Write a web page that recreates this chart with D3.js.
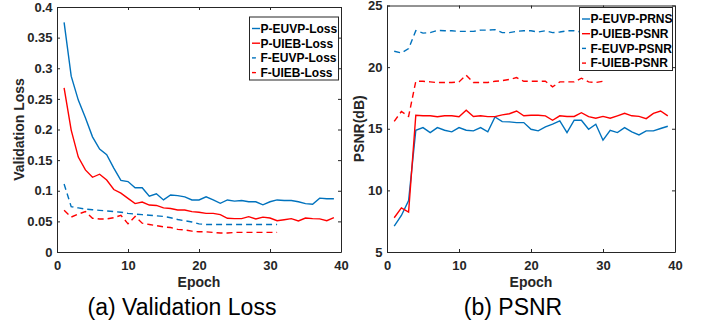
<!DOCTYPE html>
<html lang="en">

<head>
    <meta charset="utf-8">
    <title>loss and psnr</title>
    <script src="https://cdn.jsdelivr.net/npm/d3@7/dist/d3.min.js"></script>
    <style>
        body {
            margin: 0;
            background: #fff;
        }

        .svg text {
            font-family: 'Liberation Sans', Arial, sans-serif;
        }
    </style>
</head>

<body>
    <script type="text/javascript">
        // epochs
        var epochs39 = [1, 2, 3, 4, 5, 6, 7, 8, 9, 10, 11, 12, 13, 14, 15, 16, 17, 18, 19, 20,
            21, 22, 23, 24, 25, 26, 27, 28, 29, 30, 31, 32, 33, 34, 35, 36, 37, 38, 39];

        // (a) validation loss
        var pEuvpLoss = [0.375, 0.287, 0.248, 0.219, 0.188, 0.168, 0.159, 0.137, 0.117, 0.115,
            0.105, 0.105, 0.091, 0.095, 0.085, 0.093, 0.092, 0.090, 0.085, 0.085,
            0.090, 0.085, 0.0795, 0.085, 0.083, 0.084, 0.082, 0.082, 0.077, 0.082,
            0.085, 0.084, 0.084, 0.082, 0.079, 0.078, 0.088, 0.087, 0.087];
        var pUiebLoss = [0.268, 0.199, 0.155, 0.134, 0.122, 0.127, 0.1175, 0.102, 0.096, 0.0876,
            0.079, 0.0816, 0.0767, 0.076, 0.072, 0.071, 0.0686, 0.0686, 0.066, 0.065,
            0.063, 0.063, 0.061, 0.055, 0.0545, 0.0545, 0.0577, 0.054, 0.057, 0.0555,
            0.051, 0.0527, 0.0545, 0.0506, 0.0555, 0.0545, 0.054, 0.051, 0.056];
        var fEuvpLoss = [0.111, 0.074, 0.072, 0.070, 0.069, 0.068, 0.067, 0.066, 0.065, 0.063,
            0.062, 0.061, 0.060, 0.059, 0.058, 0.056, 0.053, 0.051, 0.049, 0.046,
            0.045, 0.045, 0.045, 0.045, 0.045, 0.045, 0.045, 0.045, 0.045, 0.045, 0.045];
        var fUiebLoss = [0.068, 0.057, 0.062, 0.066, 0.055, 0.054, 0.054, 0.056, 0.060, 0.046,
            0.058, 0.047, 0.045, 0.043, 0.041, 0.040, 0.037, 0.036, 0.034, 0.033,
            0.033, 0.032, 0.031, 0.031, 0.032, 0.032, 0.032, 0.032, 0.032, 0.032, 0.032];

        // (b) psnr
        var pEuvpPsnr = [7.1, 7.96, 9.17, 14.88, 15.09, 14.69, 15.09, 14.88, 14.75, 15.09,
            14.88, 14.83, 15.09, 14.75, 15.96, 15.58, 15.56, 15.5, 15.5, 14.96,
            14.83, 15.15, 15.37, 15.63, 14.69, 15.69, 15.69, 14.96, 15.37, 14.07,
            14.88, 14.69, 15.09, 14.75, 14.5, 14.83, 14.83, 15.02, 15.2];
        var pUiebPsnr = [7.78, 8.58, 8.23, 16.1, 16.05, 16.05, 15.98, 16.05, 16.05, 15.98,
            16.5, 16.0, 16.05, 15.98, 15.98, 16.13, 16.22, 16.44, 16.05, 16.1,
            16.1, 16.05, 15.69, 16.05, 16.0, 16.0, 16.3, 15.98, 15.85, 16.0,
            15.85, 16.05, 16.25, 16.05, 16.0, 15.82, 16.25, 16.44, 16.05];
        var fEuvpPsnr = [21.29, 21.15, 21.5, 22.96, 22.76, 22.8, 22.98, 22.95, 22.95, 22.9,
            22.9, 22.9, 23.0, 23.0, 23.04, 22.8, 22.8, 22.9, 22.95, 22.95,
            22.85, 22.95, 22.8, 22.85, 22.95, 22.95, 22.85, 22.85, 22.8, 22.8];
        var fUiebPsnr = [15.6, 16.4, 16.0, 18.85, 18.85, 18.8, 18.75, 18.75, 18.75, 18.8,
            19.35, 18.75, 18.75, 18.75, 18.85, 18.9, 19.0, 19.15, 18.85, 18.85,
            18.85, 18.85, 18.4, 18.8, 18.8, 18.8, 19.1, 18.8, 18.75, 18.85];

        // ticks
        var epochTicks = [0, 10, 20, 30, 40];
        var lossTicks = [0, 0.05, 0.1, 0.15, 0.2, 0.25, 0.3, 0.35, 0.4];
        var lossTickLabels = ['0', '0.05', '0.1', '0.15', '0.2', '0.25', '0.3', '0.35', '0.4'];
        var psnrTicks = [5, 10, 15, 20, 25];
        var psnrTickLabels = ['5', '10', '15', '20', '25'];

        var lossNames = ['P-EUVP-Loss', 'P-UIEB-Loss', 'F-EUVP-Loss', 'F-UIEB-Loss'];
        var psnrNames = ['P-EUVP-PRNS', 'P-UIEB-PSNR', 'F-EUVP-PSNR', 'F-UIEB-PSNR'];

        var blue = '#0072BD', red = '#FF0000', axisColor = '#262626';
        var svgWidth = 702, svgHeight = 334;

        var svg = d3.select('body')
            .append('svg')
            .attr('class', 'svg')
            .attr('width', svgWidth)
            .attr('height', svgHeight);

        function seriesOf(values, name, color, dashed) {
            return {
                name: name, color: color, dashed: dashed,
                points: values.map((v, i) => [epochs39[i], v])
            };
        }

        function drawPanel(p) {
            var g = svg.append('g');
            var x = d3.scaleLinear().domain([0, 40]).range([p.left, p.right]);
            var y = d3.scaleLinear().domain(p.yDomain).range([p.bottom, p.top]);

            // lines
            var line = d3.line().x(d => x(d[0])).y(d => y(d[1]));
            g.selectAll('path.series')
                .data(p.series)
                .enter().append('path')
                .attr('class', 'series')
                .attr('d', d => line(d.points))
                .attr('fill', 'none')
                .attr('stroke', d => d.color)
                .attr('stroke-width', 1.4)
                .attr('stroke-dasharray', d => d.dashed ? '6,4' : null);

            // axes, ticks inside
            var bottomAxis = d3.axisBottom(x).tickValues(epochTicks).tickFormat(d3.format('d'))
                .tickSizeInner(-3).tickSizeOuter(0).tickPadding(9);
            var leftAxis = d3.axisLeft(y).tickValues(p.yTicks).tickFormat((d, i) => p.yTickLabels[i])
                .tickSizeInner(-3).tickSizeOuter(0).tickPadding(4.5);
            var topAxis = d3.axisTop(x).tickValues(epochTicks).tickFormat('')
                .tickSizeInner(-3).tickSizeOuter(0);
            var rightAxis = d3.axisRight(y).tickValues(p.yTicks).tickFormat('')
                .tickSizeInner(-3).tickSizeOuter(0);

            var axes = [
                g.append('g').attr('transform', 'translate(0,' + p.bottom + ')').call(bottomAxis),
                g.append('g').attr('transform', 'translate(' + p.left + ',0)').call(leftAxis),
                g.append('g').attr('transform', 'translate(0,' + p.top + ')').call(topAxis),
                g.append('g').attr('transform', 'translate(' + p.right + ',0)').call(rightAxis)
            ];
            axes.forEach(a => {
                a.selectAll('path, line').attr('stroke', axisColor).attr('stroke-width', 1);
                a.selectAll('text')
                    .attr('fill', axisColor)
                    .style('font-size', '13px')
                    .style('font-weight', 'bold')
                    .style('font-family', "'Liberation Sans', Arial, sans-serif");
            });

            // axis labels
            g.append('text')
                .attr('x', (p.left + p.right) / 2)
                .attr('y', 287)
                .attr('text-anchor', 'middle')
                .attr('fill', axisColor)
                .style('font-size', '14px')
                .style('font-weight', 'bold')
                .text('Epoch');
            g.append('text')
                .attr('transform', 'translate(' + p.yLabelX + ',' + (p.top + p.bottom) / 2 + ') rotate(-90)')
                .attr('text-anchor', 'middle')
                .attr('fill', axisColor)
                .style('font-size', '14px')
                .style('font-weight', 'bold')
                .text(p.yLabel);

            // legend
            var lg = g.append('g').attr('transform', 'translate(' + p.legendX + ',' + p.legendY + ')');
            lg.append('rect')
                .attr('width', p.legendW)
                .attr('height', 63)
                .attr('fill', '#fff')
                .attr('stroke', axisColor)
                .attr('stroke-width', 1);
            var item = lg.selectAll('g.item')
                .data(p.series)
                .enter().append('g')
                .attr('class', 'item')
                .attr('transform', (d, i) => 'translate(0,' + (11.5 + i * 14.7) + ')');
            item.append('line')
                .attr('x1', 2.5).attr('x2', 10.5)
                .attr('stroke', d => d.color)
                .attr('stroke-width', 1.4)
                .attr('stroke-dasharray', d => d.dashed ? '4,5' : null);
            item.append('text')
                .attr('x', 11)
                .attr('dy', '0.36em')
                .attr('fill', '#000')
                .style('font-size', '12px')
                .style('font-weight', 'bold')
                .text(d => d.name);

            // caption
            svg.append('text')
                .attr('x', p.captionX)
                .attr('y', 315)
                .attr('text-anchor', 'middle')
                .attr('fill', '#000')
                .style('font-size', '23px')
                .text(p.caption);
        }

        drawPanel({
            left: 57, right: 341, top: 7, bottom: 252,
            yDomain: [0, 0.4], yTicks: lossTicks, yTickLabels: lossTickLabels,
            yLabel: 'Validation Loss', yLabelX: 23.5,
            series: [
                seriesOf(pEuvpLoss, lossNames[0], blue, false),
                seriesOf(pUiebLoss, lossNames[1], red, false),
                seriesOf(fEuvpLoss, lossNames[2], blue, true),
                seriesOf(fUiebLoss, lossNames[3], red, true)
            ],
            legendX: 249.5, legendY: 17, legendW: 89,
            caption: '(a) Validation Loss', captionX: 182
        });

        drawPanel({
            left: 387, right: 675, top: 5.5, bottom: 252,
            yDomain: [5, 25], yTicks: psnrTicks, yTickLabels: psnrTickLabels,
            yLabel: 'PSNR(dB)', yLabelX: 364,
            series: [
                seriesOf(pEuvpPsnr, psnrNames[0], blue, false),
                seriesOf(pUiebPsnr, psnrNames[1], red, false),
                seriesOf(fEuvpPsnr, psnrNames[2], blue, true),
                seriesOf(fUiebPsnr, psnrNames[3], red, true)
            ],
            legendX: 579.5, legendY: 7.5, legendW: 93,
            caption: '(b) PSNR', captionX: 513
        });
    </script>
</body>

</html>
